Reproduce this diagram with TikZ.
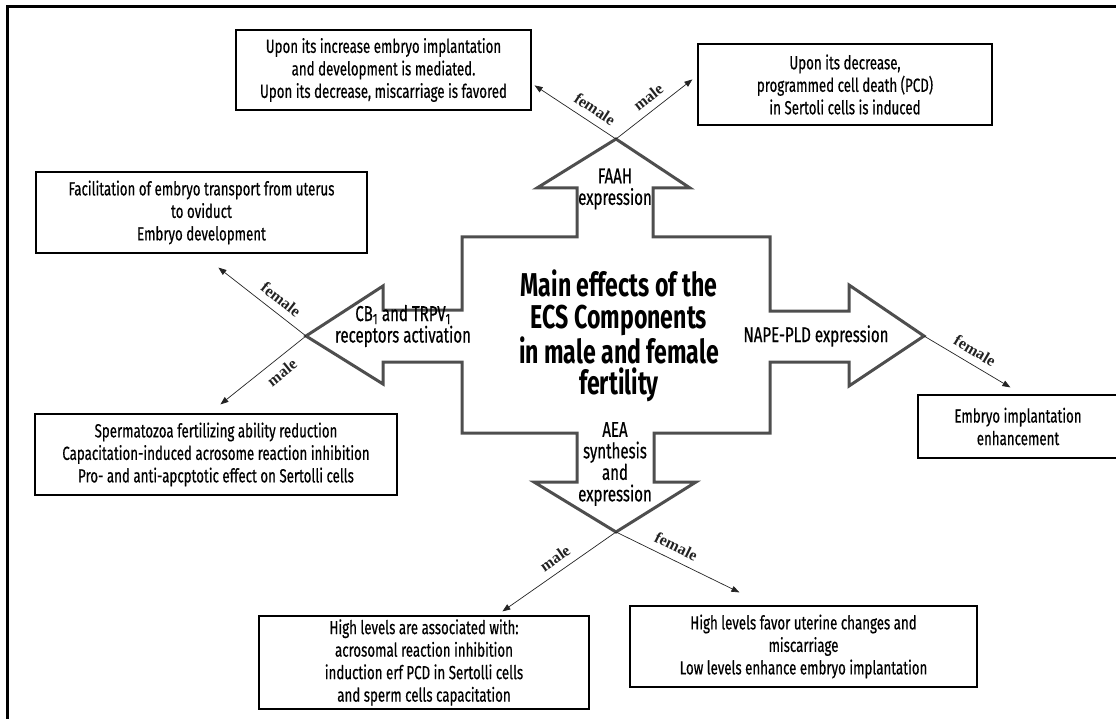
\documentclass[tikz,border=0pt]{standalone}
\usepackage{fontspec}
\setmainfont{Fira Sans}[FakeStretch=0.7, UprightFeatures={FakeBold=0.5}]
\newfontfamily\sexfont{Liberation Serif}
\usepackage{tikz}
\usetikzlibrary{arrows.meta}
\definecolor{ecsgray}{RGB}{78,78,78}
\definecolor{ecsdark}{RGB}{35,35,35}

\begin{document}
\begin{tikzpicture}[x=1pt, y=-1pt,
  box/.style={draw, line width=1.2pt, align=center, inner sep=0pt,
              font=\fontsize{19}{22.5}\selectfont},
  txt/.style={align=center, inner sep=1pt, font=\fontsize{21.5}{21.5}\selectfont},
  sex/.style={font=\sexfont\bfseries\fontsize{16}{16}\selectfont, sloped, inner sep=7.5pt},
  arr/.style={-{Triangle[length=8pt,width=6pt]}, line width=0.7pt, ecsdark}
]
\useasboundingbox (0,0) rectangle (1116,719);
\draw[line width=3pt] (7,719) -- (7,6.5) -- (1116,6.5);

% central cross of four block arrows
\coordinate (faahtip) at (616,139);
\coordinate (cbtip) at (306,336);
\coordinate (napetip) at (924,336);
\coordinate (aeatip) at (616,532);
\draw[ecsgray, line width=3pt] (faahtip) -- (690,188) -- (653,188) -- (653,237)
  -- (770,237) -- (770,311) -- (849,311) -- (849,285) -- (napetip) -- (849,386)
  -- (849,362) -- (770,362) -- (770,433) -- (654,433) -- (654,482) -- (696,482)
  -- (aeatip) -- (534,482) -- (577,482) -- (577,433) -- (462,433) -- (462,362)
  -- (383,362) -- (383,384) -- (cbtip) -- (383,286) -- (383,310) -- (462,310)
  -- (462,237) -- (577,237) -- (577,188) -- (537,188) -- cycle;

\node[font=\bfseries\fontsize{33}{31.5}\selectfont, align=center] (title) at (619,336)
  {Main effects of the\\ECS Components\\in male and female\\fertility};
\node[txt] (faahlbl) at (615,189) {FAAH\\expression};
\node[txt] (cblbl) at (403,326) {CB\textsubscript{1} and TRPV\textsubscript{1}\\receptors activation};
\node[txt] (napelbl) at (816,336) {NAPE-PLD expression};
\node[txt] (aealbl) at (615,464) {AEA\\synthesis\\and\\expression};

% effect boxes
\node[box, minimum width=295, minimum height=80] (faahF) at (383.5,70)
  {Upon its increase embryo implantation\\and development is mediated.\\Upon its decrease, miscarriage is favored};
\node[box, minimum width=294, minimum height=81] (faahM) at (845,84.5)
  {Upon its decrease,\\programmed cell death (PCD)\\in Sertoli cells is induced};
\node[box, minimum width=331, minimum height=81] (cbF) at (201.5,212.5)
  {Facilitation of embryo transport from uterus\\to oviduct\\Embryo development};
\node[box, minimum width=362, minimum height=81] (cbM) at (216,454.5)
  {Spermatozoa fertilizing ability reduction\\Capacitation-induced acrosome reaction inhibition\\Pro- and anti-apcptotic effect on Sertolli cells};
\node[box, minimum width=200, minimum height=63] (napeF) at (1018,426.5)
  {Embryo implantation\\enhancement};
\node[box, minimum width=330, minimum height=93] (aeaM) at (424,662.5)
  {High levels are associated with:\\acrosomal reaction inhibition\\induction erf PCD in Sertolli cells\\and sperm cells capacitation};
\node[box, minimum width=347, minimum height=81] (aeaF) at (803.5,646.5)
  {High levels favor uterine changes and\\miscarriage\\Low levels enhance embryo implantation};

\draw[arr] (faahtip) -- node[sex, above, pos=0.35] {female} ([xshift=3pt,yshift=-56pt]faahF.north east);
\draw[arr] (faahtip) -- node[sex, above, pos=0.53] {male} ([xshift=-5pt,yshift=-36pt]faahM.north west);
\draw[arr] (cbtip) -- node[sex, above, pos=0.38] {female} ([xshift=183pt,yshift=-14pt]cbF.south west);
\draw[arr] (cbtip) -- node[sex, below, pos=0.38] {male} ([xshift=186pt,yshift=9pt]cbM.north west);
\draw[arr] (napetip) -- node[sex, above, pos=0.51] {female} ([xshift=93pt,yshift=7pt]napeF.north west);
\draw[arr] (aeatip) -- node[sex, above, pos=0.47] {male} ([xshift=244pt,yshift=4pt]aeaM.north west);
\draw[arr] (aeatip) -- node[sex, above, pos=0.44] {female} ([xshift=110pt,yshift=13pt]aeaF.north west);
\end{tikzpicture}
\end{document}
